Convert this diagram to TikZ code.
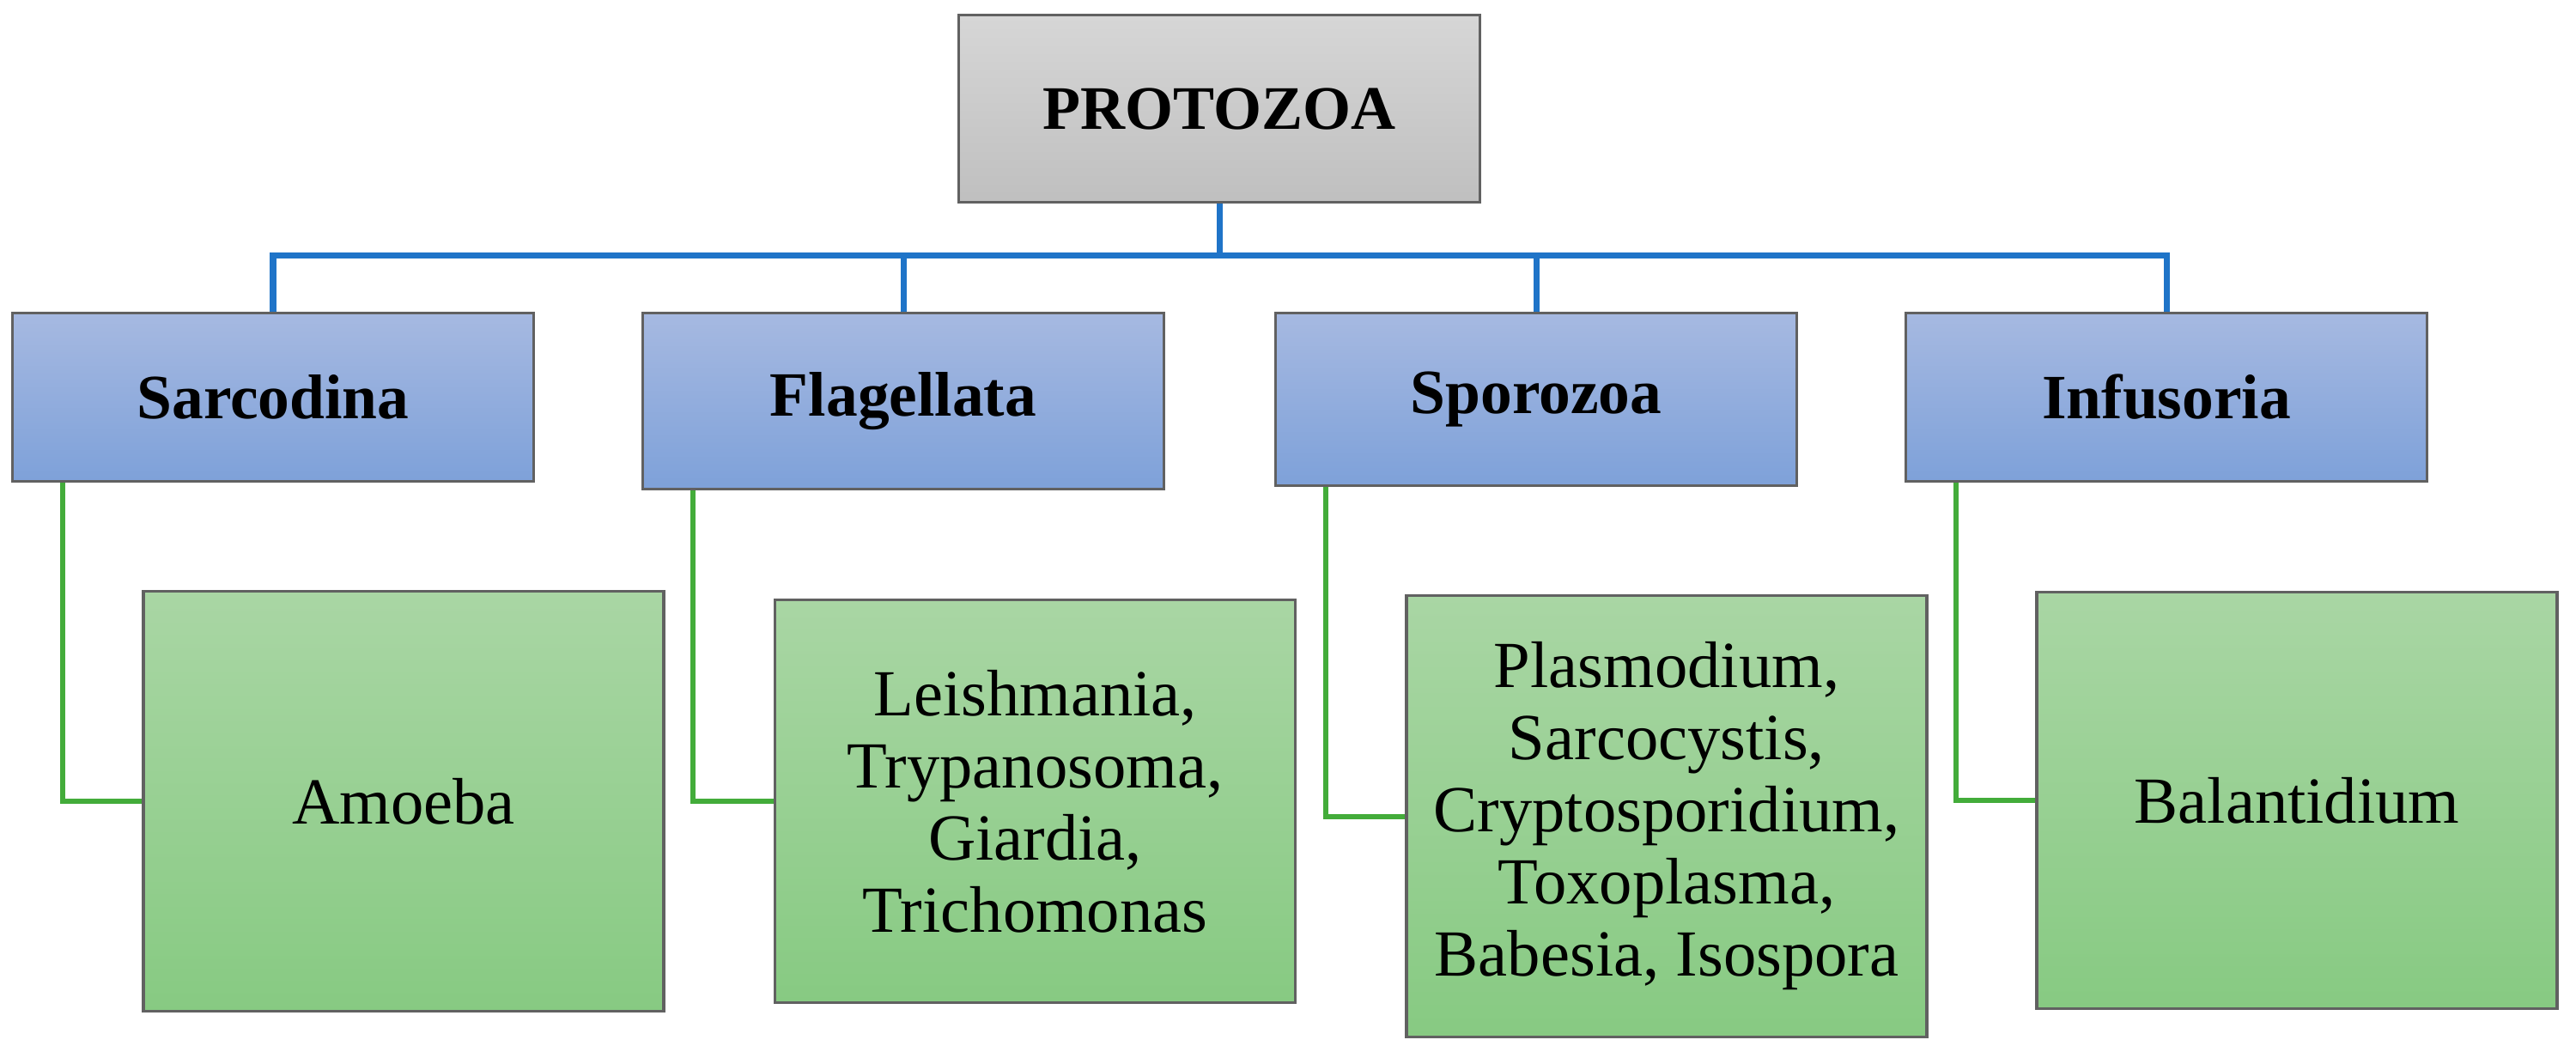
\documentclass[tikz,border=0pt]{standalone}
\usepackage{fontspec}
\setmainfont{Liberation Serif}
\usepackage{tikz}
\usetikzlibrary{calc,positioning}

\definecolor{busblue}{RGB}{31,116,200}
\definecolor{leafgreen}{RGB}{67,172,58}

\begin{document}
\begin{tikzpicture}[
    rootbox/.style={draw=black!62, line width=0.9pt, top color=black!16, bottom color=black!25,
        minimum width=6.07cm, minimum height=2.18cm, anchor=north,
        font=\fontsize{20.5}{24}\selectfont\bfseries},
    groupbox/.style={draw=black!62, line width=0.9pt, top color={rgb,255:red,166;green,185;blue,225},
        bottom color={rgb,255:red,126;green,161;blue,217}, minimum width=6.07cm, anchor=north,
        font=\fontsize{20.9}{24}\selectfont\bfseries},
    leafbox/.style={draw=black!62, line width=0.9pt, top color={rgb,255:red,169;green,214;blue,164},
        bottom color={rgb,255:red,135;green,202;blue,130}, minimum width=6.06cm, anchor=north,
        align=center, font=\fontsize{21.8}{23.9}\selectfont},
    buslink/.style={draw=busblue, line width=2pt},
    leaflink/.style={draw=leafgreen, line width=1.7pt}
  ]
    \useasboundingbox (0,0) rectangle (30,12.25);

    \node[rootbox] (proto) at (14.20,12.09) {PROTOZOA};

    \node[groupbox, minimum height=1.96cm] (sarc) at (3.18,8.62) {Sarcodina};
    \node[groupbox, minimum height=2.05cm] (flag) at (10.52,8.62) {Flagellata};
    \node[groupbox, minimum height=2.01cm] (spor) at (17.89,8.62) {Sporozoa};
    \node[groupbox, minimum height=1.96cm] (infu) at (25.23,8.62) {Infusoria};

    \node[leafbox, minimum height=4.89cm] (amoe) at (4.70,5.38) {Amoeba};
    \node[leafbox, minimum height=4.69cm] (leis) at (12.055,5.28)
        {Leishmania,\\Trypanosoma,\\Giardia,\\Trichomonas};
    \node[leafbox, minimum height=5.14cm] (plas) at (19.41,5.33)
        {Plasmodium,\\Sarcocystis,\\Cryptosporidium,\\Toxoplasma,\\Babesia, Isospora};
    \node[leafbox, minimum height=4.85cm] (bala) at (26.75,5.37) {Balantidium};

    \coordinate (bus) at (14.20,9.27);
    \foreach \grp in {sarc,flag,spor,infu}
        \draw[buslink] (proto.south) -- (bus) -| (\grp.north);

    \foreach \grp/\leaf in {sarc/amoe,flag/leis,spor/plas,infu/bala}
        \draw[leaflink] ([xshift=0.6cm]\grp.south west) |- (\leaf.west);
\end{tikzpicture}
\end{document}
